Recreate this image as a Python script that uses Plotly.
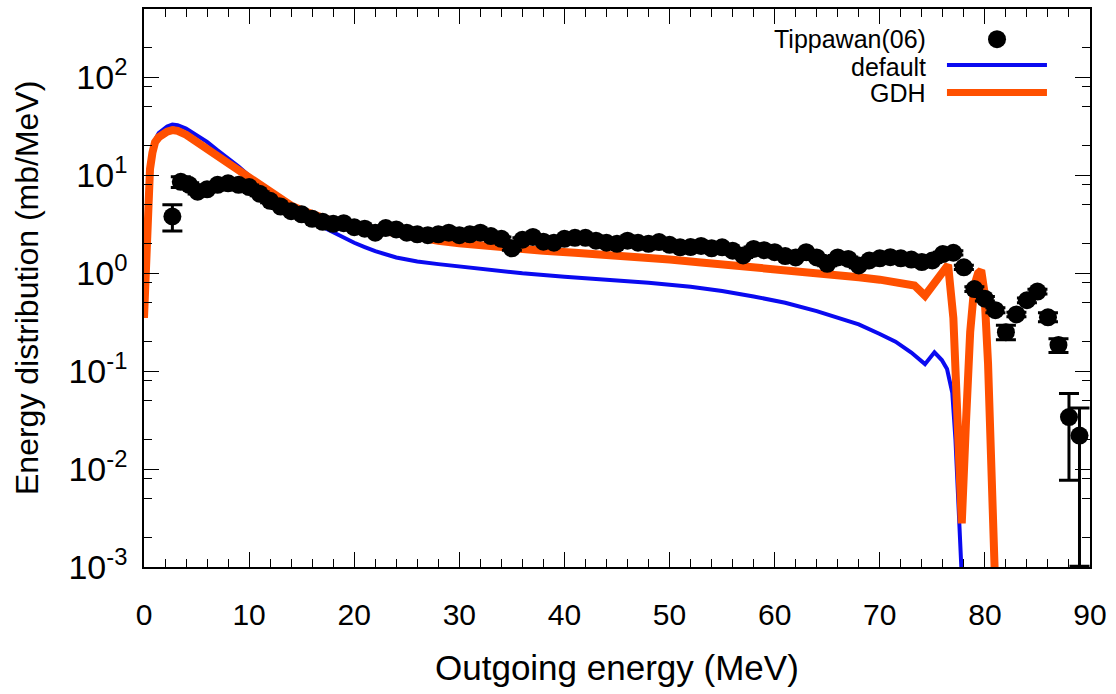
import plotly.graph_objects as go

# ---------------- data ----------------
# default calculation (blue)
def_e = [0, 0.1, 0.25, 0.4, 0.57, 0.8, 1.05, 1.4, 1.8, 2.2, 2.7, 3.2, 4, 5, 6, 7, 8, 9, 10, 11,
         12, 13, 14, 15, 16, 17, 18, 19, 20, 21, 22, 24, 26, 28, 30, 33, 36, 40, 44, 48,
         52, 55, 58, 61, 64, 66, 68, 70, 71.5, 73, 74.3, 75.2, 75.9, 76.4, 76.9, 77.2, 77.5, 77.8]
def_v = [0.35, 0.9, 2.1, 5.6, 12, 18, 23, 27, 29.5, 31.5, 33, 32.5, 30, 26, 22, 18, 15, 12.3, 9.9, 8.0,
         6.5, 5.5, 4.6, 3.9, 3.35, 2.95, 2.6, 2.3, 2.05, 1.85, 1.68, 1.45, 1.32, 1.24, 1.17, 1.07, 1.0, 0.92, 0.86, 0.8,
         0.73, 0.66, 0.58, 0.5, 0.41, 0.355, 0.3, 0.24, 0.2, 0.155, 0.118, 0.156, 0.13, 0.105, 0.06, 0.02, 0.004, 0.0008]

# GDH calculation (orange)
gdh_e = [0, 0.1, 0.25, 0.4, 0.57, 0.8, 1.05, 1.4, 1.8, 2.2, 2.7, 3.2, 4, 5, 6, 7, 8, 9, 10, 11,
         12, 13, 14, 15, 16, 17, 18, 19, 20, 22, 24, 26, 28, 30, 32, 35, 38, 41, 44, 47,
         50, 53, 56, 59, 62, 65, 68, 70, 72, 73.3, 74.3, 75.4, 76.5, 77.0, 77.4, 77.8, 78.2, 78.6, 79.0, 79.35,
         79.65, 79.95, 80.3, 80.6, 80.95]
gdh_v = [0.35, 0.8, 1.9, 5.3, 11.6, 17, 21.8, 24.5, 26.5, 28, 29, 28.5, 26, 22, 19, 16, 13.5, 11.2, 9.3, 7.8,
         6.6, 5.6, 4.9, 4.4, 4.0, 3.65, 3.4, 3.2, 3.05, 2.75, 2.5, 2.3, 2.15, 2.02, 1.92, 1.8, 1.7, 1.62, 1.55, 1.47,
         1.38, 1.29, 1.21, 1.14, 1.06, 0.99, 0.91, 0.86, 0.8, 0.75, 0.59, 0.85, 1.22, 0.35, 0.04, 0.0028, 0.03, 0.25, 0.75, 1.0,
         1.07, 0.65, 0.12, 0.02, 0.0008]

# Tippawan(06) experimental data
tip_e = [2.7, 3.5, 4.3, 5.1, 6, 7, 8, 9, 10, 11, 12, 13, 14, 15, 16, 17, 18, 19, 20, 21,
         22, 23, 24, 25, 26, 27, 28, 29, 30, 31, 32, 33, 34, 35, 36, 37, 38, 39, 40, 41,
         42, 43, 44, 45, 46, 47, 48, 49, 50, 51, 52, 53, 54, 55, 56, 57, 58, 59, 60, 61,
         62, 63, 64, 65, 66, 67, 68, 69, 70, 71, 72, 73, 74, 75, 76, 77, 78, 79, 80, 81,
         82, 83, 84, 85, 86, 87, 88, 89]
tip_v = [3.8, 8.6, 8.0, 6.8, 7.2, 8.0, 8.3, 8.0, 7.6, 6.5, 5.5, 4.8, 4.3, 4.0, 3.6, 3.35, 3.2, 3.25, 2.95, 2.85,
         2.6, 2.9, 2.8, 2.6, 2.5, 2.45, 2.5, 2.6, 2.45, 2.5, 2.6, 2.4, 2.25, 1.8, 2.2, 2.35, 2.1, 2.05, 2.25, 2.3,
         2.3, 2.15, 2.05, 2.0, 2.15, 2.05, 2.0, 2.08, 1.95, 1.84, 1.85, 1.9, 1.8, 1.84, 1.7, 1.52, 1.77, 1.72, 1.64, 1.5,
         1.45, 1.64, 1.45, 1.25, 1.45, 1.4, 1.2, 1.35, 1.42, 1.46, 1.42, 1.38, 1.3, 1.35, 1.57, 1.62, 1.15, 0.69, 0.55, 0.42,
         0.25, 0.38, 0.53, 0.65, 0.355, 0.185, 0.034, 0.022]
tip_err_up = [1.2, 1.1, 0.4, 0.35, 0.35, 0.4, 0.4, 0.4, 0.35, 0.3, 0.25, 0.22, 0.2, 0.18, 0.16, 0.15, 0.14, 0.15, 0.13, 0.13,
              0.12, 0.13, 0.12, 0.12, 0.11, 0.11, 0.11, 0.12, 0.11, 0.11, 0.12, 0.11, 0.1, 0.08, 0.1, 0.1, 0.09, 0.09, 0.1, 0.1,
              0.1, 0.1, 0.09, 0.09, 0.1, 0.09, 0.09, 0.09, 0.09, 0.08, 0.08, 0.09, 0.08, 0.08, 0.08, 0.07, 0.08, 0.08, 0.07, 0.07,
              0.07, 0.07, 0.07, 0.06, 0.07, 0.07, 0.06, 0.06, 0.07, 0.07, 0.07, 0.07, 0.06, 0.06, 0.07, 0.08, 0.06, 0.04, 0.03, 0.025,
              0.045, 0.02, 0.03, 0.035, 0.04, 0.03, 0.025, 0.02]
tip_err_dn = [1.1, 1.1, 0.4, 0.35, 0.35, 0.4, 0.4, 0.4, 0.35, 0.3, 0.25, 0.22, 0.2, 0.18, 0.16, 0.15, 0.14, 0.15, 0.13, 0.13,
              0.12, 0.13, 0.12, 0.12, 0.11, 0.11, 0.11, 0.12, 0.11, 0.11, 0.12, 0.11, 0.1, 0.08, 0.1, 0.1, 0.09, 0.09, 0.1, 0.1,
              0.1, 0.1, 0.09, 0.09, 0.1, 0.09, 0.09, 0.09, 0.09, 0.08, 0.08, 0.09, 0.08, 0.08, 0.08, 0.07, 0.08, 0.08, 0.07, 0.07,
              0.07, 0.07, 0.07, 0.06, 0.07, 0.07, 0.06, 0.06, 0.07, 0.07, 0.07, 0.07, 0.06, 0.06, 0.07, 0.08, 0.06, 0.04, 0.03, 0.025,
              0.04, 0.02, 0.03, 0.035, 0.035, 0.03, 0.0263, 0.02098]

x_ticks = [0, 10, 20, 30, 40, 50, 60, 70, 80, 90]
y_ticks = [1e-3, 1e-2, 1e-1, 1, 10, 100]
y_ticktext = ["10<sup>-3</sup>", "10<sup>-2</sup>", "10<sup>-1</sup>", "10<sup>0</sup>", "10<sup>1</sup>", "10<sup>2</sup>"]
y_minor = [m * 10.0 ** k for k in range(-3, 3) for m in (2, 5, 8)]

BLUE = "#0a0af0"
ORANGE = "#ff5000"
FONT = "Liberation Sans, Arial, sans-serif"

fig = go.Figure()
fig.add_trace(go.Scatter(x=def_e, y=def_v, mode="lines", name="default",
                         line=dict(color=BLUE, width=4), showlegend=False))
fig.add_trace(go.Scatter(x=gdh_e, y=gdh_v, mode="lines", name="GDH",
                         line=dict(color=ORANGE, width=8), showlegend=False))
fig.add_trace(go.Scatter(x=tip_e, y=tip_v, mode="markers", name="Tippawan(06)",
                         marker=dict(color="black", size=18, line=dict(width=0)),
                         error_y=dict(type="data", symmetric=False, array=tip_err_up, arrayminus=tip_err_dn,
                                      color="black", thickness=3, width=10),
                         showlegend=False))

# ---- legend (text right-aligned, sample to the right, as in the reference) ----
leg_text_x = 0.8288
leg_rows = [("Tippawan(06)", 0.946), ("default", 0.8964), ("GDH", 0.8488)]
for txt, yy in leg_rows:
    fig.add_annotation(x=leg_text_x, y=yy, xref="paper", yref="paper", text=txt, showarrow=False,
                       xanchor="right", yanchor="middle", font=dict(family=FONT, size=25, color="black"))
fig.add_shape(type="circle", xref="paper", yref="paper", xsizemode="pixel", ysizemode="pixel",
              xanchor=0.9017, yanchor=0.946, x0=-9, x1=9, y0=-9, y1=9,
              fillcolor="black", line=dict(width=0))
fig.add_shape(type="line", xref="paper", yref="paper", x0=0.8488, x1=0.9545, y0=0.8995, y1=0.8995,
              line=dict(color=BLUE, width=4))
fig.add_shape(type="line", xref="paper", yref="paper", x0=0.8488, x1=0.9545, y0=0.8505, y1=0.8505,
              line=dict(color=ORANGE, width=7))

# ---- axis titles ----
fig.add_annotation(x=0.5, y=0, xref="paper", yref="paper", yshift=-100, text="Outgoing energy (MeV)",
                   showarrow=False, xanchor="center", yanchor="middle",
                   font=dict(family=FONT, size=35, color="black"))
fig.add_annotation(x=0, y=0.5, xref="paper", yref="paper", xshift=-117, text="Energy distribution (mb/MeV)",
                   showarrow=False, xanchor="center", yanchor="middle", textangle=-90,
                   font=dict(family=FONT, size=32, color="black"))

fig.update_layout(
    width=1116, height=694,
    margin=dict(l=144, r=26, t=7, b=127, pad=0),
    paper_bgcolor="white", plot_bgcolor="white",
    showlegend=False,
    xaxis=dict(range=[0, 90], tickmode="array", tickvals=x_ticks, ticks="inside", ticklen=15, tickwidth=1,
               tickcolor="black", showline=True, linecolor="black", linewidth=1.5, mirror="ticks",
               showgrid=False, zeroline=False, ticklabelstandoff=20,
               tickfont=dict(family=FONT, size=30, color="black"),
               minor=dict(dtick=2, tick0=0, ticks="inside", ticklen=8, tickcolor="black", tickwidth=1, showgrid=False)),
    yaxis=dict(type="log", range=[-3, 2.699], tickmode="array", tickvals=y_ticks, ticktext=y_ticktext,
               ticks="inside", ticklen=15, tickwidth=1, tickcolor="black", showline=True, linecolor="black",
               linewidth=1.5, mirror="ticks", showgrid=False, zeroline=False, ticklabelstandoff=8,
               tickfont=dict(family=FONT, size=34, color="black"),
               minor=dict(tickmode="array", tickvals=y_minor, ticks="inside", ticklen=8, tickcolor="black",
                          tickwidth=1, showgrid=False)),
)

fig.write_html("out.html")
